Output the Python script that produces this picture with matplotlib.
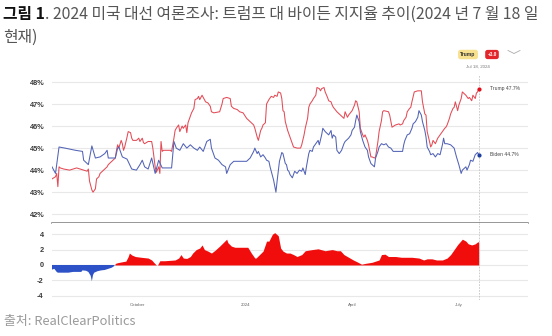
import matplotlib.pyplot as plt
import matplotlib.lines as mlines
import pandas as pd

plt.rcParams['font.family'] = ['Noto Sans CJK KR', 'DejaVu Sans']

# RCP polling average, day 0 = 2023-07-20
start = pd.Timestamp('2023-07-20')

trump_day = [0, 3, 4, 5, 6, 7, 10, 15, 21, 27,
             30, 31, 32, 34, 35, 37, 38, 40, 41, 42,
             44, 47, 48, 51, 52, 54, 55, 56, 57, 59,
             60, 61, 62, 64, 65, 67, 68, 69, 72, 74,
             75, 77, 78, 79, 82, 85, 86, 88, 89, 91,
             92, 93, 94, 95, 101, 102, 104, 105, 106, 108,
             109, 111, 112, 114, 115, 116, 118, 119, 121, 122,
             124, 125, 126, 128, 129, 131, 133, 135, 136, 138,
             143, 145, 146, 149, 152, 153, 155, 158, 160, 163,
             166, 169, 172, 173, 175, 176, 178, 179, 180, 182,
             183, 185, 187, 189, 190, 192, 193, 195, 196, 197,
             198, 199, 201, 202, 203, 205, 206, 209, 212, 213,
             215, 216, 218, 219, 220, 222, 223, 225, 226, 228,
             229, 230, 232, 233, 235, 236, 238, 239, 240, 243,
             245, 246, 248, 249, 250, 252, 253, 256, 258, 259,
             260, 262, 263, 265, 266, 267, 269, 270, 272, 273,
             275, 276, 278, 279, 281, 282, 283, 287, 288, 290,
             293, 296, 297, 299, 300, 302, 303, 305, 306, 307,
             309, 312, 315, 316, 318, 319, 320, 322, 323, 324,
             325, 327, 329, 331, 333, 335, 336, 337, 339, 340,
             342, 343, 344, 346, 347, 349, 350, 351, 353, 355,
             356, 358, 359, 361, 362, 363, 364]
trump_pct = [43.6, 43.7, 43.85, 43.25, 44.15, 44.1, 44.05, 44.0, 44.1, 44.0,
             43.95, 44.05, 43.5, 43.1, 43.0, 43.15, 43.6, 43.7, 43.85, 43.9,
             44.0, 44.15, 44.25, 44.4, 44.45, 44.55, 44.9, 45.15, 45.0, 45.35,
             45.2, 44.9, 45.05, 45.5, 45.75, 45.7, 45.45, 45.35, 45.35, 45.45,
             45.3, 45.45, 45.25, 45.2, 45.3, 45.3, 45.0, 44.15, 43.9, 44.15,
             43.85, 45.3, 44.85, 44.9, 44.9, 44.85, 45.45, 45.8, 45.9, 46.05,
             45.75, 46.0, 45.9, 46.05, 45.7, 46.15, 46.45, 46.6, 46.8, 47.2,
             47.25, 47.35, 47.2, 47.4, 47.3, 47.1, 47.05, 46.9, 46.65, 46.6,
             46.65, 47.0, 47.25, 47.3, 47.25, 46.9, 46.8, 46.75, 46.65, 46.6,
             46.35, 46.2, 46.05, 45.9, 45.5, 45.35, 45.8, 45.9, 46.05, 46.15,
             47.0, 47.2, 47.35, 47.3, 47.4, 47.35, 47.55, 47.5, 47.25, 46.7,
             46.65, 46.2, 45.8, 45.65, 45.5, 45.2, 45.05, 45.0, 45.0, 45.15,
             45.6, 45.9, 46.35, 46.85, 47.0, 47.15, 47.25, 47.4, 47.75, 47.7,
             47.6, 47.7, 47.75, 47.55, 47.3, 47.15, 47.1, 46.95, 46.85, 46.65,
             46.55, 46.5, 46.4, 46.35, 46.65, 46.4, 46.5, 46.7, 46.95, 47.15,
             47.1, 46.65, 45.9, 45.6, 45.5, 45.6, 45.35, 45.15, 44.6, 44.6,
             44.55, 44.6, 45.3, 45.75, 46.25, 46.65, 46.7, 46.65, 46.5, 45.95,
             46.05, 46.1, 46.05, 46.1, 46.25, 46.4, 46.65, 46.8, 46.85, 47.1,
             47.55, 47.6, 47.6, 47.1, 46.55, 46.5, 45.75, 45.3, 45.05, 45.15,
             45.35, 45.2, 45.45, 45.6, 45.75, 45.9, 45.95, 46.05, 46.35, 46.55,
             46.8, 46.85, 47.1, 46.7, 46.95, 47.25, 47.55, 47.5, 47.4, 47.25,
             47.3, 47.15, 47.4, 47.25, 47.5, 47.55, 47.7]

biden_day = [0, 3, 6, 11, 20, 26, 27, 31, 34, 37,
             41, 45, 47, 48, 54, 56, 57, 60, 64, 68,
             72, 75, 77, 79, 82, 85, 88, 91, 94, 102,
             104, 106, 109, 112, 115, 118, 121, 124, 126, 129,
             132, 135, 136, 139, 142, 145, 148, 149, 152, 155,
             160, 166, 169, 172, 173, 175, 176, 178, 180, 182,
             183, 185, 186, 189, 191, 192, 194, 196, 197, 199,
             200, 201, 202, 203, 205, 207, 209, 211, 213, 214,
             216, 217, 219, 220, 222, 223, 225, 227, 228, 230,
             231, 233, 236, 238, 239, 240, 242, 243, 245, 247,
             249, 250, 253, 255, 256, 258, 259, 260, 262, 263,
             265, 267, 269, 270, 272, 273, 275, 276, 278, 279,
             281, 283, 285, 287, 289, 291, 296, 299, 300, 301,
             303, 305, 307, 308, 310, 312, 313, 315, 316, 318,
             319, 320, 322, 323, 325, 327, 329, 331, 333, 334,
             335, 337, 340, 343, 345, 347, 349, 350, 353, 354,
             356, 357, 359, 361, 363, 364]
biden_pct = [44.15, 43.85, 45.05, 45.0, 44.9, 44.85, 44.45, 44.25, 45.1, 44.55,
             44.6, 44.75, 44.9, 44.55, 44.55, 45.0, 45.05, 44.6, 44.5, 44.05,
             44.0, 44.25, 44.45, 44.15, 44.05, 44.55, 43.85, 44.45, 44.1, 44.1,
             45.3, 45.0, 44.9, 45.2, 45.0, 45.15, 45.0, 44.9, 45.05, 44.85,
             45.3, 45.4, 45.0, 44.55, 44.45, 44.25, 44.15, 43.85, 44.25, 44.4,
             44.4, 44.4, 44.55, 44.85, 45.0, 44.75, 44.85, 44.6, 44.7, 44.55,
             44.45, 44.4, 44.15, 43.55, 43.0, 43.5, 44.4, 44.8, 44.75, 44.3,
             44.25, 44.0, 43.95, 43.8, 43.65, 43.95, 43.85, 44.0, 43.95, 44.1,
             43.8, 44.15, 44.75, 44.9, 44.85, 45.05, 45.2, 45.35, 45.15, 45.6,
             45.9, 45.75, 45.6, 45.8, 45.45, 45.6, 45.5, 44.9, 44.75, 44.9,
             45.2, 45.3, 45.45, 45.6, 45.8, 45.95, 46.25, 46.5, 46.2, 45.75,
             45.35, 45.05, 44.9, 44.6, 44.3, 44.25, 44.15, 44.55, 44.85, 45.05,
             45.2, 45.15, 45.2, 45.05, 45.0, 44.85, 44.85, 44.85, 45.15, 45.35,
             45.6, 45.65, 45.9, 46.1, 46.2, 46.4, 46.7, 46.5, 46.2, 45.8,
             45.5, 45.05, 44.85, 44.7, 44.75, 44.6, 44.75, 44.7, 45.15, 45.45,
             45.2, 45.2, 45.15, 45.0, 44.6, 44.25, 43.85, 44.0, 44.15, 44.0,
             44.25, 44.45, 44.4, 44.7, 44.8, 44.7]

# Trump lead over Biden (points)
spread_day = [0, 2, 4, 5, 9, 14, 18, 25, 26, 29,
              31, 33, 34, 35, 36, 39, 42, 45, 48, 51,
              53, 54, 56, 61, 63, 65, 66, 68, 71, 76,
              82, 85, 87, 89, 90, 92, 96, 105, 108, 110,
              112, 115, 118, 120, 123, 126, 128, 130, 133, 136,
              139, 143, 146, 149, 150, 153, 156, 162, 167, 170,
              173, 174, 177, 180, 183, 185, 188, 190, 193, 195,
              197, 200, 203, 206, 209, 213, 216, 222, 227, 233,
              239, 243, 246, 249, 253, 257, 261, 264, 267, 273,
              279, 281, 284, 287, 293, 298, 307, 313, 317, 320,
              324, 328, 333, 337, 340, 343, 346, 350, 353, 355,
              358, 361, 363, 364]
spread_pts = [-0.6, -0.5, -0.9, -1.0, -1.0, -1.0, -0.9, -0.9, -0.7, -0.75,
              -0.9, -1.4, -2.1, -1.3, -1.0, -0.8, -0.7, -0.65, -0.5, -0.35,
              -0.15, 0.2, 0.3, 0.45, 0.5, 1.1, 1.55, 1.3, 1.1, 1.0,
              0.9, 0.65, 0.3, 0.0, 0.0, 0.55, 0.55, 0.65, 0.9, 1.35,
              0.9, 0.85, 1.1, 1.55, 2.0, 2.2, 2.6, 2.0, 1.8, 1.55,
              1.9, 2.45, 2.9, 3.35, 2.9, 2.45, 2.3, 2.3, 2.3, 1.55,
              0.9, 0.9, 1.35, 1.8, 3.1, 3.1, 4.0, 4.2, 3.8, 2.2,
              1.8, 1.55, 1.55, 1.35, 1.1, 1.35, 1.85, 2.0, 2.1, 1.85,
              2.0, 1.85, 1.85, 1.35, 1.0, 0.65, 0.35, 0.1, 0.2, 0.35,
              0.65, 1.35, 1.4, 1.1, 1.1, 1.0, 1.0, 0.9, 0.65, 0.8,
              0.8, 0.65, 0.65, 0.9, 1.35, 2.0, 2.65, 3.35, 3.1, 2.75,
              2.6, 2.75, 3.0, 3.0]

month_ticks = ['2023-10-01', '2024-01-01', '2024-04-01', '2024-07-01']
month_labels = ['October', '2024', 'April', 'July']
main_yticks = [42, 43, 44, 45, 46, 47, 48]
spread_yticks = [-4, -2, 0, 2, 4]

RED = '#e34b56'
BLUE = '#5263b6'


def to_dates(days):
    return start + pd.to_timedelta(days, unit='D')


last_day = to_dates(trump_day[-1])
trump_now, biden_now = trump_pct[-1], biden_pct[-1]
lead = trump_now - biden_now

W, H = 552, 336
fig = plt.figure(figsize=(W / 100, H / 100), dpi=100)


def fx(x):
    return x / W


def fy(y):
    return 1 - y / H


ax = fig.add_axes([fx(52), fy(223), fx(476), (223 - 75.4) / H])
ax2 = fig.add_axes([fx(52), fy(300.4), fx(476), (300.4 - 223.4) / H], sharex=ax)

# top panel: the two averages
ax.plot(to_dates(trump_day), trump_pct, color=RED, lw=0.75)
ax.plot(to_dates(biden_day), biden_pct, color=BLUE, lw=0.75)
ax.scatter([last_day], [trump_now], s=9, color='#e0101c', zorder=5, lw=0)
ax.scatter([last_day], [biden_now], s=9, color='#1f3fa0', zorder=5, lw=0)
ax.axvline(last_day, color='#c4c4c4', lw=0.6, ls=(0, (2, 1.5)))

lab_x = start + pd.Timedelta(days=374)
ax.text(lab_x, trump_now, f'Trump {trump_now}%', fontsize=3.6, color='#444',
        va='center', family='Liberation Sans')
ax.text(lab_x, biden_now, f'Biden {biden_now}%', fontsize=3.6, color='#444',
        va='center', family='Liberation Sans')

ax.set_xlim(start, start + pd.Timedelta(days=406))
ax.set_ylim(41.6, 48.3)
ax.set_yticks(main_yticks)
ax.set_yticklabels([f'{v}%' for v in main_yticks], family='Liberation Sans',
                   fontsize=5.3, weight='bold', color='#3a3a3a')
ax.yaxis.grid(True, color='#e8e8e8', lw=0.8)
ax.set_axisbelow(True)
for s in ['top', 'left', 'right']:
    ax.spines[s].set_visible(False)
ax.spines['bottom'].set_color('#7a7a7a')
ax.spines['bottom'].set_linewidth(1.1)
ax.tick_params(axis='y', length=0, pad=5)
ax.tick_params(axis='x', length=0, labelbottom=False)

# bottom panel: spread
sd = to_dates(spread_day)
sp = pd.Series(spread_pts)
ax2.fill_between(sd, 0, sp, where=sp >= 0, interpolate=True, color='#f20d0d', lw=0)
ax2.fill_between(sd, 0, sp, where=sp <= 0, interpolate=True, color='#2d52c8', lw=0)
ax2.axvline(last_day, color='#c4c4c4', lw=0.6, ls=(0, (2, 1.5)))
ax2.set_ylim(-4.6, 5.4)
ax2.set_yticks(spread_yticks)
ax2.set_yticklabels([str(v) for v in spread_yticks], family='Liberation Sans',
                    fontsize=5.3, weight='bold', color='#3a3a3a')
ax2.yaxis.grid(True, color='#e8e8e8', lw=0.8)
ax2.set_axisbelow(True)
for s in ax2.spines.values():
    s.set_visible(False)
ax2.set_xticks(pd.to_datetime(month_ticks))
ax2.set_xticklabels(month_labels, fontsize=3.2, color='#666', family='Liberation Sans')
ax2.tick_params(axis='y', length=0, pad=6)
ax2.tick_params(axis='x', length=0, pad=2)

# header badge
fig.text(fx(468), fy(54.5), 'Trump', ha='center', va='center', fontsize=3.6,
         weight='bold', color='#333', family='Liberation Sans',
         bbox=dict(boxstyle='round,pad=0.45,rounding_size=0.5', fc='#f7e08e', ec='none'))
fig.text(fx(492), fy(54.5), f'+{lead:.1f}', ha='center', va='center', fontsize=3.4,
         weight='bold', color='white', family='Liberation Sans',
         bbox=dict(boxstyle='round,pad=0.45,rounding_size=0.5', fc='#e3262b', ec='none'))
fig.add_artist(mlines.Line2D([fx(508), fx(514), fx(520)], [fy(50.5), fy(53.5), fy(50.5)],
                             color='#aaaaaa', lw=0.6))
fig.text(fx(478), fy(66.5), f'{last_day:%b} {last_day.day}, {last_day.year}',
         ha='center', va='center', fontsize=3.2, color='#777', family='Liberation Sans')

# title and source
t1 = fig.text(fx(3), fy(14), '그림 1', fontsize=11.4, weight='bold', color='#111', va='center')
ax.annotate('. 2024 미국 대선 여론조사: 트럼프 대 바이든 지지율 추이(2024 년 7 월 18 일',
            xy=(1, 0.5), xycoords=t1, va='center', ha='left', fontsize=11.4,
            color='#555', annotation_clip=False)
fig.text(fx(3), fy(37), '현재)', fontsize=11.4, color='#555', va='center')
fig.text(fx(4), fy(322), '출처: RealClearPolitics', fontsize=9.3, color='#9a9a9a', va='center')

fig.savefig('out.png', dpi=100)
